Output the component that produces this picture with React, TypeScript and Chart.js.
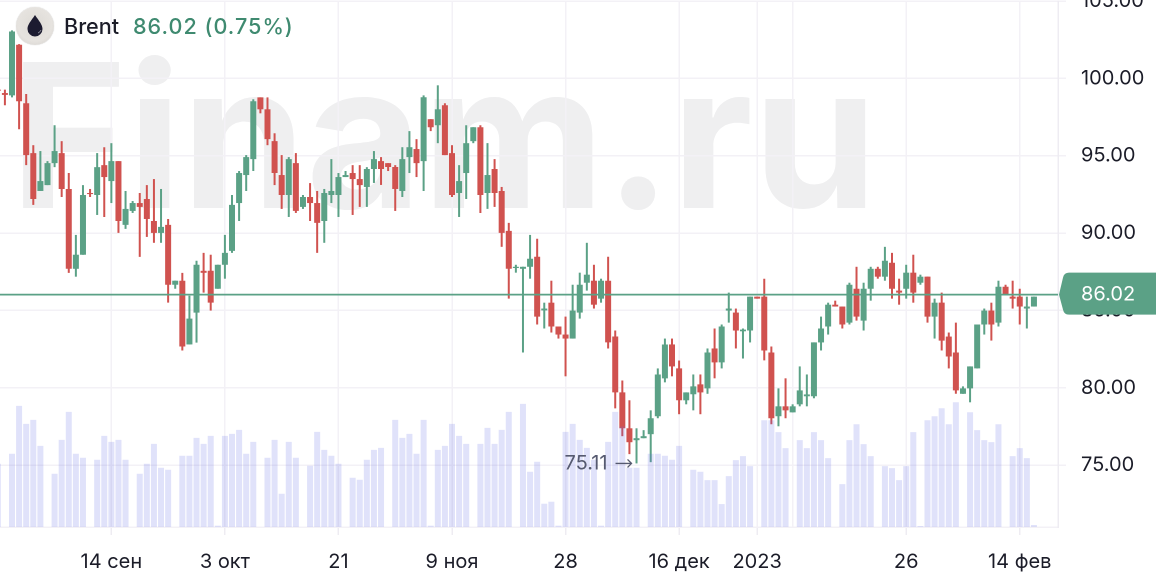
import React, { useEffect, useRef } from "react";
import { Chart, registerables } from "chart.js";

Chart.register(...registerables);

const opens = [
  99.27, 99.05, 98.9, 102.17, 98.39, 95.17, 92.72, 93.1, 94.52, 95.17,
  92.85, 87.69, 88.6, 92.59, 92.46, 94.39, 93.36, 94.65, 90.53, 91.43,
  91.94, 92.2, 90.78, 90.01, 90.53, 86.66, 86.92, 82.8, 84.86, 87.56,
  87.56, 86.4, 87.95, 88.85, 91.94, 93.75, 94.78, 98.77, 98.0, 95.94,
  93.75, 92.46, 94.52, 91.69, 92.33, 91.94, 90.78, 92.46, 92.46, 93.62,
  93.88, 93.49, 92.98, 94.14, 94.65, 94.52, 94.27, 92.72, 94.91, 95.43,
  94.65, 97.36, 96.97, 98.26, 95.17, 92.59, 93.88, 95.94, 96.84, 92.59,
  94.14, 92.72, 90.14, 87.74, 87.69, 87.82, 88.47, 85.0, 85.5, 83.96,
  83.44, 83.18, 84.86, 86.79, 86.92, 85.76, 86.92, 83.31, 79.7, 77.38,
  76.61, 76.74, 77.0, 78.16, 80.61, 82.8, 81.25, 79.19, 79.58, 80.22,
  79.96, 82.54, 81.64, 84.99, 84.86, 83.65, 83.7, 85.89, 85.89, 82.28,
  78.16, 78.8, 78.41, 78.93, 79.45, 79.45, 82.93, 83.96, 85.37, 85.25,
  84.21, 86.4, 84.34, 86.4, 87.69, 87.18, 88.08, 86.28, 86.4, 87.44,
  86.79, 87.18, 84.6, 85.5, 83.31, 82.28, 79.61, 79.96, 81.25, 84.09,
  84.99, 84.21, 86.53, 85.89, 85.89, 85.12, 85.25,
];
const highs = [
  99.91, 99.27, 103.1, 102.21, 98.99, 95.68, 95.3, 94.65, 96.97, 95.94,
  93.88, 89.88, 93.1, 92.85, 95.17, 95.55, 95.81, 94.65, 92.72, 92.07,
  92.59, 93.1, 93.49, 92.85, 90.91, 86.92, 87.43, 85.95, 88.21, 88.72,
  88.6, 87.95, 89.88, 92.46, 94.01, 95.04, 98.65, 98.77, 98.77, 96.45,
  95.04, 94.91, 95.17, 92.46, 93.23, 92.72, 92.85, 94.78, 93.88, 94.01,
  94.39, 94.39, 94.26, 95.3, 94.91, 94.52, 94.39, 95.55, 96.59, 96.07,
  98.9, 97.36, 99.55, 98.39, 95.68, 94.39, 96.97, 96.84, 96.97, 95.81,
  94.78, 92.98, 90.66, 87.95, 87.82, 89.88, 89.63, 85.5, 86.92, 83.96,
  84.6, 86.66, 87.44, 89.37, 87.95, 87.05, 88.47, 83.7, 80.47, 79.19,
  77.38, 77.26, 78.54, 81.25, 83.18, 83.18, 81.76, 79.7, 80.86, 80.86,
  82.54, 83.83, 84.09, 86.15, 85.12, 83.83, 85.89, 85.89, 87.05, 82.67,
  79.96, 80.61, 78.93, 81.38, 80.86, 82.93, 84.6, 85.5, 85.63, 85.25,
  86.79, 87.82, 86.79, 87.82, 87.82, 89.11, 88.72, 87.05, 87.95, 88.6,
  87.31, 87.18, 85.76, 86.15, 83.57, 84.21, 80.09, 81.38, 84.09, 85.12,
  85.5, 86.92, 86.66, 86.92, 86.4, 85.89, 85.89,
];
const lows = [
  98.95, 98.26, 98.77, 96.71, 94.39, 91.82, 92.72, 93.1, 94.26, 92.33,
  87.43, 87.18, 88.6, 92.33, 91.17, 91.04, 91.94, 90.01, 90.27, 91.3,
  88.46, 89.75, 89.37, 89.37, 85.5, 86.4, 82.41, 82.8, 82.92, 86.15,
  84.99, 86.4, 87.05, 88.72, 90.78, 92.72, 94.01, 97.74, 95.68, 93.1,
  91.56, 91.04, 91.3, 91.56, 90.78, 88.72, 89.37, 91.94, 91.04, 93.62,
  91.17, 91.69, 91.69, 93.24, 93.11, 94.01, 91.43, 92.33, 93.88, 93.62,
  92.72, 96.59, 95.81, 95.04, 92.33, 91.04, 92.2, 95.81, 91.3, 91.56,
  91.69, 89.11, 85.76, 87.44, 82.28, 87.05, 84.09, 83.83, 83.57, 83.18,
  80.74, 83.18, 84.47, 86.28, 85.12, 85.5, 82.54, 78.67, 76.87, 75.71,
  75.11, 76.74, 75.19, 78.03, 80.35, 80.74, 78.29, 78.93, 78.54, 78.29,
  79.61, 80.61, 81.25, 84.21, 82.54, 81.89, 82.93, 85.76, 81.77, 77.64,
  77.51, 78.03, 78.41, 78.8, 78.8, 79.32, 82.41, 83.44, 85.25, 83.83,
  84.09, 84.34, 83.7, 85.63, 87.05, 86.92, 85.76, 85.37, 85.76, 85.5,
  86.66, 84.21, 83.18, 82.41, 81.25, 79.61, 79.61, 79.06, 81.25, 83.44,
  83.05, 83.96, 86.02, 85.12, 84.09, 83.83, 85.25,
];
const closes = [
  99.2, 98.93, 103.03, 98.52, 95.04, 92.2, 93.36, 94.52, 95.3, 92.85,
  87.69, 88.6, 92.46, 92.52, 94.26, 93.62, 94.65, 90.78, 91.56, 91.94,
  91.69, 90.91, 90.01, 90.4, 86.66, 86.92, 82.67, 84.47, 87.95, 87.43,
  85.5, 87.95, 88.72, 91.82, 93.88, 94.91, 98.52, 98.0, 96.07, 93.88,
  92.46, 94.78, 91.43, 92.33, 91.94, 90.66, 92.59, 92.72, 93.62, 93.75,
  93.49, 93.1, 94.14, 94.78, 94.14, 94.27, 92.85, 94.78, 95.55, 94.52,
  98.78, 96.84, 98.0, 95.04, 92.46, 93.36, 95.81, 96.84, 92.46, 93.75,
  92.59, 90.01, 87.69, 87.82, 87.82, 88.34, 84.6, 85.12, 83.96, 83.44,
  83.18, 84.99, 86.66, 87.31, 85.37, 86.92, 82.93, 79.7, 77.38, 76.48,
  76.74, 76.87, 78.03, 80.86, 82.8, 81.38, 79.19, 79.7, 80.09, 79.7,
  82.28, 81.64, 83.96, 85.12, 83.7, 83.76, 85.89, 85.76, 82.41, 78.03,
  78.8, 78.54, 78.8, 79.83, 79.57, 82.93, 83.83, 85.37, 85.25, 84.09,
  86.66, 84.6, 86.4, 87.69, 87.18, 88.21, 86.4, 86.15, 87.44, 86.15,
  87.18, 84.6, 85.5, 83.05, 82.02, 79.83, 79.96, 81.38, 84.09, 84.99,
  84.09, 86.53, 86.02, 85.76, 85.25, 85.25, 85.89,
];
const volumes = [
  190, 0, 220, 364, 310, 322, 244, 0, 160, 262,
  346, 220, 208, 0, 202, 274, 256, 262, 202, 0,
  160, 190, 250, 178, 172, 0, 214, 214, 268, 250,
  274, 4, 274, 280, 292, 220, 256, 0, 208, 262,
  100, 256, 208, 0, 184, 286, 232, 214, 190, 0,
  148, 142, 202, 232, 238, 0, 322, 268, 280, 220,
  322, 4, 232, 244, 310, 274, 250, 0, 250, 298,
  250, 292, 346, 0, 370, 166, 196, 70, 76, 4,
  286, 310, 262, 238, 202, 4, 256, 346, 302, 178,
  178, 0, 220, 220, 214, 202, 244, 0, 172, 166,
  141, 141, 69, 153, 201, 213, 183, 0, 321, 321,
  285, 237, 0, 261, 237, 285, 261, 207, 0, 129,
  261, 309, 249, 213, 0, 183, 177, 141, 183, 285,
  3, 321, 333, 357, 309, 375, 0, 345, 291, 261,
  255, 309, 0, 213, 237, 207, 6,
];
const tickIndex = [16, 32, 48, 64, 80, 96, 107, 112, 128, 144];
const tickText = ["14 сен", "3 окт", "21", "9 ноя", "28", "16 дек", "2023", "", "26", "14 фев"];
const priceTicks = [75, 80, 85, 90, 95, 100, 105];
const lastPrice = 86.02;
const lowPrice = 75.11;
const lowIndex = 90;

const GREEN = "#5ba186";
const RED = "#d0524f";
const GRID = "#f3f1f6";
const INK = "#1b1c28";
const FONT = "Inter, sans-serif";
const candleColors = opens.map((o, i) => (closes[i] >= o ? GREEN : RED));

const overlays = {
  id: "overlays",
  afterDatasetsDraw(chart: any) {
    const { ctx, chartArea, scales } = chart;
    const y = scales.y.getPixelForValue(lastPrice);
    ctx.save();
    ctx.strokeStyle = GREEN;
    ctx.lineWidth = 1.8;
    ctx.beginPath();
    ctx.moveTo(0, y);
    ctx.lineTo(chartArea.right, y);
    ctx.stroke();
    ctx.font = `20px ${FONT}`;
    ctx.fillStyle = "#565a70";
    ctx.textBaseline = "middle";
    ctx.textAlign = "right";
    const ly = scales.y.getPixelForValue(lowPrice);
    const lx = scales.x.getPixelForValue(lowIndex);
    ctx.fillText(String(lowPrice), lx - 29, ly);
    ctx.strokeStyle = "#565a70";
    ctx.lineWidth = 1.3;
    ctx.beginPath();
    ctx.moveTo(lx - 21, ly);
    ctx.lineTo(lx - 5, ly);
    ctx.moveTo(lx - 9, ly - 4);
    ctx.lineTo(lx - 5, ly);
    ctx.lineTo(lx - 9, ly + 4);
    ctx.stroke();
    ctx.restore();
  },
  afterDraw(chart: any) {
    const { ctx, chartArea, scales, width } = chart;
    const y = scales.y.getPixelForValue(lastPrice);
    const l = chartArea.right + 1;
    ctx.save();
    ctx.fillStyle = GREEN;
    ctx.beginPath();
    ctx.moveTo(l, y);
    ctx.lineTo(l + 4, y - 17);
    ctx.quadraticCurveTo(l + 5, y - 22, l + 10, y - 22);
    ctx.lineTo(width, y - 22);
    ctx.lineTo(width, y + 20);
    ctx.lineTo(l + 10, y + 20);
    ctx.quadraticCurveTo(l + 5, y + 20, l + 4, y + 15);
    ctx.closePath();
    ctx.fill();
    ctx.fillStyle = "#ffffff";
    ctx.font = `20px ${FONT}`;
    ctx.textAlign = "left";
    ctx.textBaseline = "middle";
    ctx.fillText(lastPrice.toFixed(2), 1081, y);
    ctx.restore();
  },
};

export default function App() {
  const ref = useRef<HTMLCanvasElement>(null);
  useEffect(() => {
    const xs = opens.map((_, i) => i);
    const chart = new Chart(ref.current as HTMLCanvasElement, {
      type: "bar",
      data: {
        datasets: [
          {
            label: "Volume",
            yAxisID: "v",
            order: 0,
            data: xs.map((i) => ({ x: i, y: volumes[i] })),
            backgroundColor: "rgba(100,110,230,0.2)",
            barThickness: 6,
            grouped: false,
            inflateAmount: 0,
          },
          {
            label: "Body",
            yAxisID: "y",
            order: 1,
            data: xs.map((i) => ({ x: i, y: [opens[i], closes[i]] })),
            backgroundColor: candleColors,
            barThickness: 6,
            grouped: false,
            inflateAmount: 0,
          },
          {
            label: "Wick",
            yAxisID: "y",
            order: 2,
            data: xs.map((i) => ({ x: i, y: [lows[i], highs[i]] })),
            backgroundColor: candleColors,
            barThickness: 2,
            grouped: false,
            inflateAmount: 0,
          },
        ],
      } as any,
      options: {
        animation: false,
        responsive: false,
        devicePixelRatio: 2,
        layout: { padding: { top: 15, left: 0, right: 0, bottom: 0 } },
        plugins: { legend: { display: false }, tooltip: { enabled: false } },
        scales: {
          x: {
            type: "linear",
            offset: false,
            min: 0.309,
            max: 149.39,
            afterBuildTicks: (axis: any) => {
              axis.ticks = tickIndex.map((value) => ({ value }));
            },
            afterFit: (axis: any) => {
              axis.height = 57;
            },
            grid: {
              offset: false,
              color: GRID,
              lineWidth: 1.5,
              tickLength: 8,
              tickColor: (c: any) => (c.tick && c.tick.value === 112 ? "rgba(0,0,0,0)" : "#eeecf2"),
            },
            border: { color: GRID, width: 1.5 },
            ticks: {
              autoSkip: false,
              maxRotation: 0,
              padding: 15,
              color: INK,
              font: { family: FONT, size: 20 },
              callback: (v: any) => {
                const k = tickIndex.indexOf(Number(v));
                return k >= 0 ? tickText[k] : "";
              },
            },
          },
          y: {
            position: "right",
            min: 71,
            max: 105,
            afterBuildTicks: (axis: any) => {
              axis.ticks = priceTicks.map((value) => ({ value }));
            },
            afterFit: (axis: any) => {
              axis.width = 98;
            },
            grid: { color: GRID, lineWidth: 1.5, tickLength: 8, tickColor: GRID },
            border: { color: "#eeecf2", width: 1.5 },
            ticks: {
              padding: 15,
              crossAlign: "near",
              color: INK,
              font: { family: FONT, size: 20 },
              callback: (v: any) => Number(v).toFixed(2),
            },
          },
          v: { display: false, min: 0, max: 1581, grid: { display: false } },
        },
      } as any,
      plugins: [overlays] as any,
    });
    return () => chart.destroy();
  }, []);

  return (
    <div style={{ position: "fixed", inset: 0, overflow: "hidden", background: "#fff" }}>
      <div
        style={{
          position: "absolute",
          left: 10,
          top: 15,
          fontFamily: FONT,
          fontWeight: 700,
          fontSize: 200,
          lineHeight: "240px",
          color: "#efeff0",
          whiteSpace: "nowrap",
        }}
      >
        Finam.ru
      </div>
      <canvas
        ref={ref}
        width={1156}
        height={610}
        style={{ position: "absolute", left: 0, top: -26, width: 1156, height: 610 }}
      />
      <div
        style={{
          position: "absolute",
          left: 16,
          top: 7,
          width: 38,
          height: 38,
          borderRadius: "50%",
          background: "radial-gradient(circle at 50% 45%, #dedbd6 0%, #e6e3df 60%, #cfccc8 100%)",
          boxShadow: "0 0 1px #bbb",
        }}
      >
        <svg width="38" height="38" viewBox="0 0 38 38">
          <path d="M19 8 C15 14 11.5 17.5 11.5 22 a7.5 7.5 0 0 0 15 0 C26.5 17.5 23 14 19 8 Z" fill="#1c1b30" />
          <path d="M22 26 a5 5 0 0 0 3 -3" stroke="#8a8a96" strokeWidth="1" fill="none" />
        </svg>
      </div>
      <div
        style={{
          position: "absolute",
          left: 64,
          top: 13,
          fontFamily: FONT,
          fontSize: 21.6,
          lineHeight: "26px",
          fontWeight: 500,
          color: INK,
          whiteSpace: "nowrap",
        }}
      >
        Brent
        <span style={{ position: "absolute", left: 69, top: 0, color: "#3f8a70", letterSpacing: 1 }}>
          86.02 (0.75%)
        </span>
      </div>
    </div>
  );
}
